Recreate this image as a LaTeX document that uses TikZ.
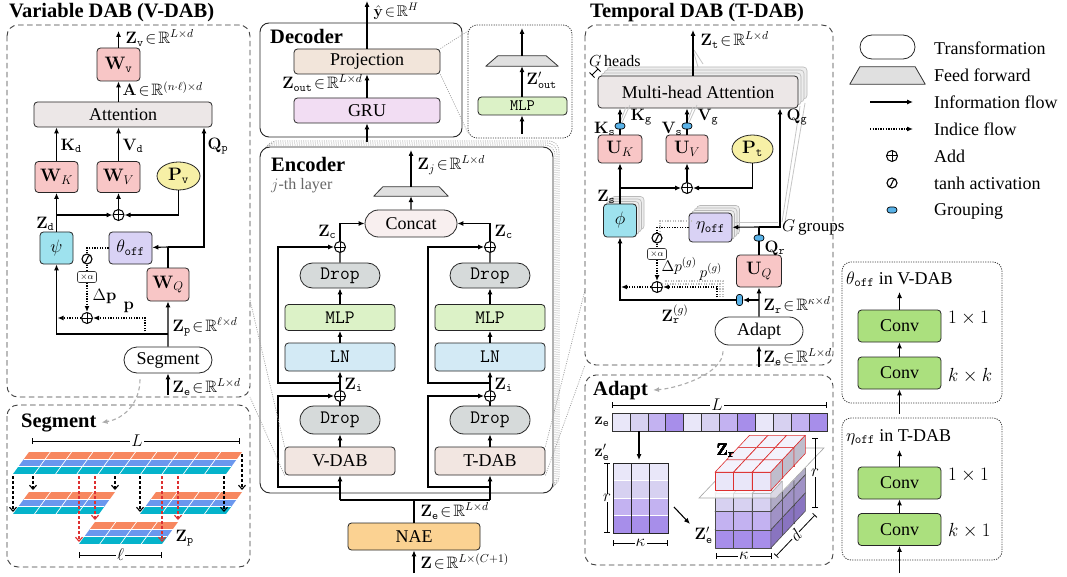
\RequirePackage{fix-cm}
\documentclass[tikz,border=0pt]{standalone}
\usepackage{amssymb}
\usepackage[no-math]{fontspec}
\setmainfont{Liberation Serif}[BoldFont={Liberation Serif Bold}, ItalicFont={Liberation Serif Italic}]
\usetikzlibrary{arrows.meta,shapes.misc,shapes.geometric,calc}

\definecolor{cPink}{HTML}{F8C6C6}
\definecolor{cYel}{HTML}{F7F0A6}
\definecolor{cCyan}{HTML}{9EE2EE}
\definecolor{cLav}{HTML}{D9D2F5}
\definecolor{cAttn}{HTML}{ECE7E7}
\definecolor{cProj}{HTML}{F2E5DA}
\definecolor{cGRU}{HTML}{F2DDF3}
\definecolor{cDrop}{HTML}{D6DADA}
\definecolor{cMLP}{HTML}{DCF2C7}
\definecolor{cLN}{HTML}{D3EAF5}
\definecolor{cDAB}{HTML}{F2E6E1}
\definecolor{cNAE}{HTML}{FBD292}
\definecolor{cCat}{HTML}{F8EFEF}
\definecolor{cConv}{HTML}{ABE07E}
\definecolor{cGrp}{HTML}{58B2E8}
\definecolor{cFF}{HTML}{E0E0E0}
\definecolor{sOr}{HTML}{F7875F}
\definecolor{sBl}{HTML}{6A97EE}
\definecolor{sTe}{HTML}{05B3CB}
\definecolor{pA}{HTML}{E9E7F9}
\definecolor{pB}{HTML}{D7D1F1}
\definecolor{pC}{HTML}{C3B2F1}
\definecolor{pD}{HTML}{A78EEA}
\definecolor{cRed}{HTML}{DD3030}

\newcommand\fs[1]{\fontsize{#1}{#1}\selectfont}
\newcommand\mb[1]{\mathbf{#1}}
\newcommand\tts[1]{\mathtt{#1}}
\newcommand\inR{\!\in\!\mathbb{R}}

% three coloured rows of a patch strip: top-left x, top y, cells, width
\newcommand\segstrip[4]{%
  \foreach \rr/\col in {0/sOr,1/sBl,2/sTe}{%
    \fill[\col] ({#1-\rr*5.33},{#2+\rr*7.33}) -- ++(#4,0) -- ++(-5.33,7.33) -- ++(-#4,0) -- cycle;}
  \pgfmathtruncatemacro\nm{#3-1}%
  \foreach \k in {1,...,\nm}{\draw[white, line width=0.7pt] ({#1+\k*#4/#3},#2) -- ++(-16,22);}
  \draw[white, line width=0.9pt] ({#1-5.33},{#2+7.33}) -- ++(#4,0) ({#1-10.67},{#2+14.67}) -- ++(#4,0);
}

% one cube of the reshaped tensor: column, depth, level, fill, edge, lift
\newcommand\vcube[6]{%
  \pgfmathsetmacro\cx{715+#1*18.6+#2*11.5}%
  \pgfmathsetmacro\cy{548-#3*18.2-#2*12.3-#6}%
  \filldraw[fill=#4, draw=#5, line width=0.6pt, line join=round]
    (\cx,\cy) rectangle ++(18.6,-18.2);
  \filldraw[fill=#4!55!white, draw=#5, line width=0.6pt, line join=round]
    (\cx,\cy-18.2) -- ++(18.6,0) -- ++(11.5,-12.3) -- ++(-18.6,0) -- cycle;
  \filldraw[fill=#4!82!black, draw=#5, line width=0.6pt, line join=round]
    (\cx+18.6,\cy) -- ++(0,-18.2) -- ++(11.5,-12.3) -- ++(0,18.2) -- cycle;
}

% feed-forward trapezoid over a placeholder node
\newcommand\ffshape[2]{\draw[fill=cFF, draw=black!80, line width=0.8pt, line join=round]
  (#1.south west) -- (#1.south east) -- ([xshift=-#2]#1.north east) -- ([xshift=#2]#1.north west) -- cycle;}

\tikzset{
  box/.style={rectangle, draw=black!85, line width=0.8pt, rounded corners=3.5pt, inner sep=0pt, font=\fs{18}},
  pill/.style={rounded rectangle, draw=black!85, line width=0.8pt, inner sep=0pt, font=\fs{18}},
  oval/.style={ellipse, draw=black!85, line width=0.8pt, inner sep=0pt, font=\fs{18}},
  ttbox/.style={font=\ttfamily\fs{19}},
  lbl/.style={font=\fs{16.5}, inner sep=0.5pt},
  flow/.style={line width=1.1pt, -{Latex[length=6pt,width=5pt]}},
  wire/.style={line width=1.1pt},
  idxw/.style={line width=1.3pt, dash pattern=on 1.3pt off 1.3pt},
  idx/.style={idxw, -{Latex[length=6pt,width=5pt]}},
  panel/.style={draw=black!75, line width=0.9pt, dash pattern=on 5.5pt off 3.5pt, rounded corners=11pt},
  dpanel/.style={draw=black!75, line width=0.8pt, dash pattern=on 1.2pt off 1.2pt, rounded corners=9pt},
  title/.style={font=\fs{20.5}\bfseries, inner sep=0pt, anchor=base west},
  addn/.style={circle, draw, line width=1pt, minimum size=11pt, inner sep=0pt, fill=white,
    path picture={\draw[line width=1pt] (path picture bounding box.north) -- (path picture bounding box.south)
      (path picture bounding box.west) -- (path picture bounding box.east);}},
  tanhn/.style={circle, draw, line width=1.1pt, minimum size=10pt, inner sep=0pt, fill=white,
    path picture={\draw[line width=1.1pt]
      ([shift={(-4.5,4)}]path picture bounding box.center) .. controls ([shift={(1.5,4.5)}]path picture bounding box.center)
      and ([shift={(-1.5,-4.5)}]path picture bounding box.center) .. ([shift={(4.5,-4)}]path picture bounding box.center);}},
  alph/.style={rectangle, draw=black!80, line width=0.6pt, rounded corners=2pt, fill=white,
    minimum width=19pt, minimum height=11pt, inner sep=0pt, font=\fs{9}},
  grp/.style={rounded rectangle, draw=black, line width=0.7pt, fill=cGrp, minimum width=10pt, minimum height=6pt, inner sep=0pt},
  grpv/.style={rectangle, rounded corners=2.5pt, draw=black, line width=0.7pt, fill=cGrp, minimum width=6pt, minimum height=11pt, inner sep=0pt},
  zoomln/.style={draw=gray!75, line width=0.7pt, dash pattern=on 1pt off 1.3pt},
  zoomarr/.style={draw=gray!65, line width=1.1pt, dash pattern=on 4pt off 3pt, -{Latex[length=6pt,width=5pt]}},
  segarr/.style={line width=1.1pt, dash pattern=on 3pt off 2pt, -{Straight Barb[length=4pt,width=7pt]}},
  dimln/.style={line width=0.8pt, {Bar[width=6pt]}-{Bar[width=6pt]}},
  dimlbl/.style={fill=white, font=\fs{17}, inner sep=1.2pt},
  shadow/.style={draw=gray!55, fill=gray!14, line width=0.6pt, rounded corners=3.5pt},
  gline/.style={draw=gray!45, line width=0.8pt},
  lgtxt/.style={font=\fs{18}, anchor=west, inner sep=0pt},
}

\begin{document}
\begin{tikzpicture}[x=1pt,y=-1pt]
\useasboundingbox (0,0) rectangle (1067,577);
\fill[white] (0,0) rectangle (1067,577);

%================ Variable DAB ================
\draw[panel] (7,25) rectangle (250,397);
\node[title] (vT) at (9,18) {Variable DAB (V-DAB)};
\node[box, fill=cPink, minimum width=43, minimum height=33] (Wv) at (118.5,64.5) {$\mb{W}_{\tts{v}}$};
\node[box, fill=cAttn, minimum width=178, minimum height=25] (Att) at (123,114.5) {Attention};
\node[box, fill=cPink, minimum width=43, minimum height=31] (WK) at (56.5,177) {$\mb{W}_K$};
\node[box, fill=cPink, minimum width=43, minimum height=31] (WV) at (118.5,177) {$\mb{W}_V$};
\node[oval, fill=cYel, minimum width=43, minimum height=28] (Pv) at (178.5,176) {$\mb{P}_{\tts{v}}$};
\node[addn] (addV) at (118.5,215) {};
\node[box, fill=cCyan, minimum width=33, minimum height=32] (psi) at (56.5,248) {$\psi$};
\node[box, fill=cLav, minimum width=43, minimum height=32] (thoff) at (130.5,248) {$\theta_{\tts{off}}$};
\node[box, fill=cPink, minimum width=42, minimum height=33] (WQ) at (168,284.5) {$\mb{W}_Q$};
\node[pill, fill=white, minimum width=88, minimum height=26] (Seg) at (168,360) {Segment};
\coordinate (zvo) at (118.5,31);
\coordinate (qj) at (168,247);
\coordinate (qc) at (204,247);
\coordinate (zpj) at (168,334);
\coordinate (pj) at (145,334);
\coordinate (zein) at (168,395);

\draw[flow] (Wv) -- (zvo);
\draw[flow] (Att.north -| Wv) -- (Wv);
\draw[flow] (WK) -- (WK |- Att.south);
\draw[flow] (WV) -- (WV |- Att.south);
\draw[flow] (psi) -- (WK);
\draw[flow] (psi.north |- addV) -- (addV);
\draw[flow] (Pv) |- (addV);
\draw[flow] (addV) -- (WV);
\draw[wire] (WQ) -- (qj);
\draw[flow] (qj) -- (thoff);
\draw[flow] (qj) -- (qc) -- (qc |- Att.south);
\draw[flow] (Seg) -- (WQ);
\draw[flow] (zpj) -| (psi);
\draw[flow] (zein) -- (Seg);

\node[tanhn] (thA) at (87,259) {};
\node[alph] (alA) at (87,277) {$\times\alpha$};
\node[addn] (addPv) at (87,318) {};
\draw[idxw] (thoff) -| (thA);
\draw[idxw] (thA) -- (alA);
\draw[idx] (alA) -- (addPv);
\draw[idx] (pj) |- (addPv);
\draw[idx] (addPv) -- ([xshift=1]addPv -| psi);

\node[lbl, anchor=west] at (125,38) {$\mb{Z}_{\tts{v}}\inR^{L\times d}$};
\node[lbl, anchor=west] at (122,89) {$\mb{A}\inR^{(n\cdot\ell)\times d}$};
\node[lbl, anchor=west] at (60,146) {$\mb{K}_{\tts{d}}$};
\node[lbl, anchor=west] at (122,146) {$\mb{V}_{\tts{d}}$};
\node[lbl, anchor=west] at (207,146) {$\mb{Q}_{\tts{p}}$};
\node[lbl, anchor=east] at (55,224) {$\mb{Z}_{\tts{d}}$};
\node[lbl, anchor=west] at (92,296) {$\Delta\mb{p}$};
\node[lbl, anchor=west] at (123,307) {$\mb{p}$};
\node[lbl, anchor=west] at (172,327) {$\mb{Z}_{\tts{p}}\inR^{\ell\times d}$};
\node[lbl, anchor=west] at (172,387) {$\mb{Z}_{\tts{e}}\inR^{L\times d}$};

%================ Segment ================
\draw[panel] (7,405) rectangle (250,567);
\node[title] (sT) at (21,427) {Segment};
\draw[zoomarr] ([xshift=-28,yshift=-6]Seg.south) .. controls +(0,22) and +(24,-4) .. ([xshift=5]sT.east);
\draw[dimln] (32,441) -- (240,441);
\node[dimlbl] at (137,441) {$L$};
\segstrip{29}{452}{10}{213}
\segstrip{29}{492}{4}{86}
\segstrip{156}{492}{4}{86}
\segstrip{95}{522}{4}{83}
\foreach \xa/\ya/\yb in {13/476/512, 33/476/490, 115/476/490, 140/476/512, 224/476/512, 242/454/490}
  \draw[segarr] (\xa,\ya) -- (\xa,\yb);
\foreach \xa/\yb in {79/542, 95/520, 162/542, 178/520}
  \draw[segarr, cRed] (\xa,476) -- (\xa,\yb);
\node[lbl, anchor=west] at (175,538) {$\mb{Z}_{\tts{p}}$};
\draw[dimln] (79,555) -- (162,555);
\node[dimlbl] at (120.5,555) {$\ell$};

%================ Decoder ================
\draw[line width=0.9pt, draw=black!85, rounded corners=9pt] (260,23) rectangle (462,137);
\node[title] at (270,44) {Decoder};
\node[box, fill=cProj, minimum width=146, minimum height=25] (Proj) at (367,61.5) {Projection};
\node[box, fill=cGRU, minimum width=146, minimum height=25] (GRU) at (367,110.5) {GRU};
\coordinate (yout) at (367,1);
\coordinate (encTop) at (367,142);
\draw[flow] (Proj) -- (yout);
\draw[flow] (GRU) -- (Proj);
\draw[flow] (encTop) -- (GRU);
\node[lbl, anchor=west, font=\fs{15.5}] at (373,11.5) {$\hat{\mb{y}}\inR^{H}$};
\node[lbl, anchor=east] at (363,83) {$\mb{Z}_{\tts{out}}\inR^{L\times d}$};

% projection head detail
\draw[dpanel] (468,25) rectangle (572,138);
\node[inner sep=0pt, minimum width=72, minimum height=10] (ff1) at (522,61) {};
\ffshape{ff1}{12}
\node[box, fill=cMLP, minimum width=89, minimum height=18, font=\ttfamily\fs{16}] (mlpd) at (522.5,106) {MLP};
\coordinate (ffo) at (522,28);
\coordinate (mlpin) at (522,134);
\draw[flow] (ff1) -- (ffo);
\draw[flow] (mlpd.north -| ff1) -- (ff1);
\draw[flow] (mlpin) -- (mlpin |- mlpd.south);
\node[lbl, anchor=west] at (526,80) {$\mb{Z}'_{\tts{out}}$};
\draw[zoomln] (Proj.north east) -- (468,31);
\draw[zoomln] (Proj.south east) -- (468,133);

%================ Encoder ================
\foreach \o in {6,4,2}
  \draw[zoomln, rounded corners=10pt] ({260+\o},{147-\o}) rectangle ({553+\o},{493-\o});
\draw[line width=0.9pt, draw=black!85, fill=white, rounded corners=10pt] (260,147) rectangle (553,493);
\node[title] at (271,172) {Encoder};
\node[font=\fs{16}, text=black!60, anchor=west, inner sep=0pt] at (271,186) {$j$-th layer};
\node[inner sep=0pt, minimum width=74, minimum height=9] (ff2) at (411,191.5) {};
\ffshape{ff2}{9}
\node[pill, fill=cCat, minimum width=92, minimum height=27] (cat) at (411,223.5) {Concat};
\coordinate (zjo) at (411,150);
\draw[flow] (ff2) -- (zjo);
\draw[flow] (cat) -- (ff2);
\node[lbl, anchor=west] at (417,165) {$\mb{Z}_{j}\inR^{L\times d}$};

\foreach \s/\cx/\rx/\nm in {L/340/278/V-DAB, R/490/428/T-DAB}{
  \node[addn] (addU\s) at (\cx,247) {};
  \node[pill, ttbox, fill=cDrop, minimum width=80, minimum height=25] (dropU\s) at (\cx,275.5) {Drop};
  \node[box, ttbox, fill=cMLP, minimum width=110, minimum height=26] (mlp\s) at (\cx,317.5) {MLP};
  \node[box, ttbox, fill=cLN, minimum width=110, minimum height=28] (ln\s) at (\cx,357) {LN};
  \node[addn] (addD\s) at (\cx,396) {};
  \node[pill, ttbox, fill=cDrop, minimum width=80, minimum height=28] (dropD\s) at (\cx,420) {Drop};
  \node[box, fill=cDAB, minimum width=110, minimum height=28] (dab\s) at (\cx,461) {\nm};
  \coordinate (zi\s) at (\cx,383);
  \coordinate (ri\s) at (\cx,487);
  \coordinate (bus\s) at (\cx,500);
  \draw[flow] (addU\s) |- (cat);
  \draw[wire] (dropU\s) -- (addU\s);
  \draw[flow] (mlp\s) -- (dropU\s);
  \draw[flow] (ln\s) -- (mlp\s);
  \draw[flow] (addD\s) -- (ln\s);
  \draw[flow] (zi\s) -- ++({\rx-\cx},0) |- (addU\s);
  \draw[wire] (dropD\s) -- (addD\s);
  \draw[flow] (dab\s) -- (dropD\s);
  \draw[flow] (bus\s) -- (dab\s);
  \draw[flow] (ri\s) -- ++({\rx-\cx},0) |- (addD\s);
}
\node[lbl, anchor=east] at (337,232) {$\mb{Z}_{\tts{c}}$};
\node[lbl, anchor=west] at (494,232) {$\mb{Z}_{\tts{c}}$};
\node[lbl, anchor=west] at (344,385) {$\mb{Z}_{\tts{i}}$};
\node[lbl, anchor=west] at (494,385) {$\mb{Z}_{\tts{i}}$};

\node[box, fill=cNAE, minimum width=132, minimum height=27] (nae) at (414,536.5) {NAE};
\coordinate (busM) at (414,500);
\coordinate (zin) at (414,573);
\draw[wire] (nae) -- (busM);
\draw[wire] (busL) -- (busR);
\draw[flow] (zin) -- (nae);
\node[lbl, anchor=west] at (420,511) {$\mb{Z}_{\tts{e}}\inR^{L\times d}$};
\node[lbl, anchor=west] at (420,561) {$\mb{Z}\inR^{L\times(C+1)}$};

\draw[zoomln] (dabL.north west) -- (250,300);
\draw[zoomln] (dabL.south west) -- (250,397);
\draw[zoomln] (dabR.north east) -- (585,290);
\draw[zoomln] (dabR.south east) -- (585,365);

%================ Temporal DAB ================
\draw[panel] (585,25) rectangle (833,365);
\node[title] at (590,18) {Temporal DAB (T-DAB)};
\foreach \o in {9,6,3}
  \draw[shadow] ({598+\o},{76-\o}) rectangle ({798+\o},{108-\o});
\node[box, fill=cAttn, minimum width=200, minimum height=32] (mha) at (698,92) {Multi-head Attention};
\coordinate (zto) at (693,30);
\draw[gline] (698,67) -- (693,50) (703,64) -- (694,50);
\draw[flow] (mha.north -| zto) -- (zto);
\node[lbl, anchor=west] at (700,40) {$\mb{Z}_{\tts{t}}\inR^{L\times d}$};
\node[font=\fs{16}, anchor=base west, inner sep=0pt] at (589,67) {$G$\,heads};
\draw[line width=0.8pt] (592,75) -- (598,69) (589.5,72.5) -- (594.5,77.5) (595.5,66.5) -- (600.5,71.5);

\node[box, fill=cPink, minimum width=44, minimum height=28] (uk) at (620,149) {$\mb{U}_K$};
\node[box, fill=cPink, minimum width=42, minimum height=28] (uv) at (687,149) {$\mb{U}_V$};
\node[oval, fill=cYel, minimum width=41, minimum height=28] (pt) at (752.5,149) {$\mb{P}_{\tts{t}}$};
\node[grp] (gk) at (620,126) {};
\node[grp] (gv) at (687,126) {};
\draw[gline] (gk.north) -- (626,107) (gk.north east) -- (630,105);
\draw[gline] (gv.north) -- (693,107) (gv.north east) -- (697,105);
\draw[wire] (uk) -- (gk);
\draw[flow] (gk) -- (gk |- mha.south);
\draw[wire] (uv) -- (gv);
\draw[flow] (gv) -- (gv |- mha.south);
\node[lbl, anchor=east] at (616,129) {$\mb{K}_{\tts{s}}$};
\node[lbl, anchor=west] at (630,117) {$\mb{K}_{\tts{g}}$};
\node[lbl, anchor=east] at (683,129) {$\mb{V}_{\tts{s}}$};
\node[lbl, anchor=west] at (697,117) {$\mb{V}_{\tts{g}}$};

\node[addn] (addT) at (687,188) {};
\foreach \o in {7.5,5,2.5}
  \draw[shadow] ({603.5+\o},{204-\o}) rectangle ({636.5+\o},{237-\o});
\node[box, fill=cCyan, minimum width=33, minimum height=33] (phi) at (620,220.5) {$\phi$};
\foreach \o in {7.5,5,2.5}
  \draw[shadow] ({689+\o},{213-\o}) rectangle ({732+\o},{242-\o});
\node[box, fill=cLav, minimum width=43, minimum height=29] (eta) at (710.5,227.5) {$\eta_{\tts{off}}$};
\node[box, fill=cPink, minimum width=45, minimum height=32] (uq) at (759,271) {$\mb{U}_Q$};
\node[pill, fill=white, minimum width=88, minimum height=28] (adp) at (759,331) {Adapt};
\draw[flow] (addT) -- (uv);
\draw[flow] (pt) |- (addT);
\draw[flow] (phi) -- (uk);
\draw[flow] (phi.north |- addT) -- (addT);
\node[lbl, anchor=east] at (616,197) {$\mb{Z}_{\tts{s}}$};

\coordinate (qj2) at (759,227);
\coordinate (qc2) at (780,227);
\draw[gline] (782,222) -- (800,106) (785,222) -- (805,103);
\draw[gline] (735,222) -- (778,222);
\node[grp] (gq) at (759,238) {};
\draw[wire] (uq) -- (gq);
\draw[wire] (gq) -- (qj2);
\draw[flow] (qj2) -- (eta);
\draw[flow] (qj2) -- (qc2) -- (qc2 |- mha.south);
\node[lbl, anchor=west] at (786,117) {$\mb{Q}_{\tts{g}}$};
\node[lbl, anchor=west] at (764,248) {$\mb{Q}_{\tts{r}}$};
\node[font=\fs{17}, anchor=west, inner sep=0pt] at (782,228) {$G$\,groups};

\coordinate (pj2) at (717,300);
\draw[idxw, gray!50] (720,300) |- (662,284) (723,300) |- (664,281);
\draw[idxw, gray!50] (692,221) -| (660,233);
\node[tanhn] (thB) at (657,238) {};
\node[alph] (alB) at (657,254) {$\times\alpha$};
\node[addn] (addPt) at (657,287) {};
\draw[idxw] (eta) -| (thB);
\draw[idxw] (thB) -- (alB);
\draw[idx] (alB) -- (addPt);
\draw[idx] (pj2) |- (addPt);
\draw[idx] (addPt) -- ([xshift=1]addPt -| phi);
\node[lbl, anchor=west, font=\fs{15.5}] at (661,266) {$\Delta p^{(g)}$};
\node[lbl, anchor=west, font=\fs{15.5}] at (699,272) {$p^{(g)}$};

\node[grpv] (gr) at (739.5,300) {};
\coordinate (zrj) at (759,300);
\coordinate (zein2) at (759,367);
\draw[flow] (adp) -- (uq);
\draw[flow] (zrj) -- (gr);
\draw[flow] (gr) -| (phi);
\draw[flow] (zein2) -- (adp);
\node[lbl, anchor=west] at (661,314) {$\mb{Z}_{\tts{r}}^{(g)}$};
\node[lbl, anchor=west] at (763,305) {$\mb{Z}_{\tts{r}}\inR^{\kappa\times d}$};
\node[lbl, anchor=west] at (763,357) {$\mb{Z}_{\tts{e}}\inR^{L\times d}$};

%================ Adapt ================
\draw[panel] (585,375) rectangle (833,565);
\node[title] (aT) at (593,395) {Adapt};
\draw[zoomarr] ([xshift=-36,yshift=-6]adp.south) .. controls +(0,22) and +(26,-2) .. ([xshift=5]aT.east);
\draw[dimln] (612,405) -- (827,405);
\node[dimlbl] at (717,405) {$L$};
\node[lbl, anchor=west] at (594,422) {$\mb{z}_{\tts{e}}$};
\foreach \i/\col in {0/pA,1/pB,2/pC,3/pD,4/pA,5/pB,6/pC,7/pD,8/pA,9/pB,10/pC,11/pD}
  \filldraw[fill=\col, draw=black!80, line width=0.7pt] ({612+\i*17.92},413) rectangle ++(17.92,18);
\draw[flow] (639,431) -- (639,460);
\node[lbl, anchor=west] at (594,452) {$\mb{z}'_{\tts{e}}$};
\foreach \r/\col in {0/pA,1/pB,2/pC,3/pD}
  \foreach \c in {0,1,2}
    \fill[\col] ({613+\c*18.33},{463+\r*17.5}) rectangle ++(18.33,17.5);
\foreach \r in {1,2,3} \draw[white, line width=0.8pt] (613,{463+\r*17.5}) -- ++(55,0);
\foreach \c in {0,1,2,3} \draw[black!85, line width=1pt] ({613+\c*18.33},463) -- ++(0,70);
\draw[black!85, line width=0.7pt] (613,463) rectangle (668,533);
\draw[dimln] (607,463) -- (607,533);
\node[dimlbl, inner sep=0.8pt] at (607,498) {$r$};
\draw[dimln] (613,543) -- (668,543);
\node[dimlbl] at (640.5,543) {$\kappa$};
\draw[flow] (674,507) -- (690,524);
\node[lbl, anchor=west] at (694,535) {$\mb{Z}'_{\tts{e}}$};

% stacked cubes: three lower levels, cutting plane, lifted top level
\foreach \j in {2,1,0}
  \foreach \k/\col in {0/pD,1/pC,2/pB}
    \foreach \i in {0,1,2}
      \vcube{\i}{\j}{\k}{\col}{black!70}{0}
\fill[white, opacity=0.55] (699,498) -- (776,498) -- (824,448) -- (747,448) -- cycle;
\draw[gray!70, line width=0.6pt] (699,498) -- (776,498) -- (824,448) -- (747,448) -- cycle;
\foreach \j in {2,1,0}
  \foreach \i in {0,1,2}
    \vcube{\i}{\j}{3}{pA}{cRed}{3}
\node[lbl, anchor=west] at (716,451) {$\mb{Z}_{\tts{r}}$};
\draw[dimln] (815,438) -- (815,508);
\node[dimlbl, inner sep=0.8pt] at (815,473) {$r$};
\draw[dimln] (776,556) -- (815,515);
\node[dimlbl, inner sep=0.5pt, rotate=45] at (795.5,535.5) {$d$};
\draw[dimln] (716,556) -- (772,556);
\node[dimlbl] at (744,556) {$\kappa$};

%================ Legend ================
\node[pill, fill=white, minimum width=55, minimum height=24] (lgP) at (887.5,47) {};
\node[lgtxt] at (934,48) {Transformation};
\node[inner sep=0pt, minimum width=75, minimum height=17] (lgF) at (887.5,75.5) {};
\ffshape{lgF}{10}
\node[lgtxt] at (934,75) {Feed forward};
\coordinate (lgA1) at (870,102);
\coordinate (lgA2) at (913,102);
\draw[flow] (lgA1) -- (lgA2);
\node[lgtxt] at (934,102) {Information flow};
\coordinate (lgB1) at (870,129);
\coordinate (lgB2) at (913,129);
\draw[idx] (lgB1) -- (lgB2);
\node[lgtxt] at (934,129) {Indice flow};
\node[addn] (lgAdd) at (892,156) {};
\node[lgtxt] at (934,156) {Add};
\node[tanhn] (lgTanh) at (892,183) {};
\node[lgtxt] at (934,183) {tanh activation};
\node[grp] (lgGrp) at (892,210) {};
\node[lgtxt] at (934,211) {Grouping};

%================ Offset networks ================
\draw[dpanel] (842,262) rectangle (1002,403);
\node[font=\fs{18}, anchor=base west, inner sep=0pt] at (846,284) {$\theta_{\tts{off}}$ in V-DAB};
\node[box, fill=cConv, minimum width=83, minimum height=32] (cv1) at (899.5,326) {Conv};
\node[box, fill=cConv, minimum width=83, minimum height=32] (cv2) at (899.5,373) {Conv};
\coordinate (cv1o) at (899.5,292);
\coordinate (cv2i) at (899.5,414);
\draw[flow] (cv1) -- (cv1o);
\draw[flow] (cv2) -- (cv1);
\draw[flow] (cv2i) -- (cv2);
\node[font=\fs{19}, anchor=west, inner sep=0pt] at (948,318) {$1\times1$};
\node[font=\fs{19}, anchor=west, inner sep=0pt] at (948,376) {$k\times k$};

\draw[dpanel] (842,418) rectangle (1002,560);
\node[font=\fs{18}, anchor=base west, inner sep=0pt] at (846,441) {$\eta_{\tts{off}}$ in T-DAB};
\node[box, fill=cConv, minimum width=83, minimum height=32] (cv3) at (899.5,483) {Conv};
\node[box, fill=cConv, minimum width=83, minimum height=32] (cv4) at (899.5,529.5) {Conv};
\coordinate (cv3o) at (899.5,450);
\coordinate (cv4i) at (899.5,573);
\draw[flow] (cv3) -- (cv3o);
\draw[flow] (cv4) -- (cv3);
\draw[flow] (cv4i) -- (cv4);
\node[font=\fs{19}, anchor=west, inner sep=0pt] at (948,475) {$1\times1$};
\node[font=\fs{19}, anchor=west, inner sep=0pt] at (948,531) {$k\times1$};
\end{tikzpicture}
\end{document}
